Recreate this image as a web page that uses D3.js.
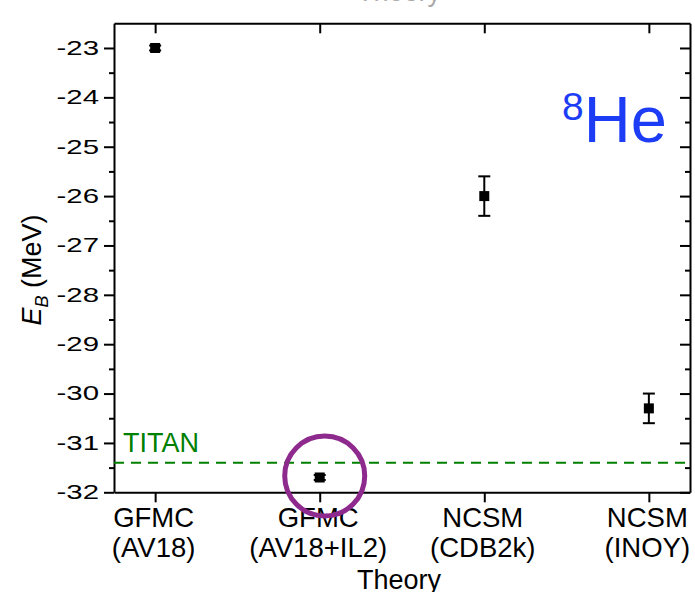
<!DOCTYPE html>
<html>
<head>
<meta charset="utf-8">
<script src="https://cdn.jsdelivr.net/npm/d3@7"></script>
<style>
  html, body { margin: 0; padding: 0; background: #fff; }
  svg { display: block; font-family: "Liberation Sans", Arial, sans-serif; }
</style>
</head>
<body>
<svg id="chart" width="695" height="592"></svg>
<script>
// Calculation methods (two-line labels) and binding energies of 8He in MeV
const methods = ["GFMC", "GFMC", "NCSM", "NCSM"];
const interactions = ["(AV18)", "(AV18+IL2)", "(CDB2k)", "(INOY)"];
const energies = [-23.0, -31.7, -26.0, -30.3];
const errors = [0.05, 0.05, 0.4, 0.3];
const titanEnergy = -31.4;
const yMajorTicks = [-32, -31, -30, -29, -28, -27, -26, -25, -24, -23];
const yMinorTicks = [-31.5, -30.5, -29.5, -28.5, -27.5, -26.5, -25.5, -24.5, -23.5];
const highlighted = 1;

const svg = d3.select("#chart");
const plotLeft = 114, plotRight = 690, plotTop = 23.3, plotBottom = 492.3;
const positions = methods.map((_, i) => i + 1);

const x = d3.scaleLinear().domain([0.75, 4.25]).range([plotLeft, plotRight]);
const y = d3.scaleLinear().domain([-32, -22.5]).range([plotBottom, plotTop]);

const axisStroke = g => {
  g.select(".domain").attr("stroke", "#000").attr("stroke-width", 2);
  g.selectAll(".tick line").attr("stroke", "#000").attr("stroke-width", 2);
};

// Left axis: outward major and minor ticks
const gLeft = svg.append("g").attr("transform", `translate(${plotLeft},0)`)
  .call(d3.axisLeft(y).tickValues(yMajorTicks).tickSize(10).tickSizeOuter(0)
    .tickFormat(d => String(d)))
  .call(axisStroke);
const labelStretch = 1.4;
gLeft.selectAll(".tick text")
  .attr("font-size", 21)
  .attr("font-family", "Liberation Sans, Arial, sans-serif")
  .attr("fill", "#000")
  .attr("x", -15 / labelStretch)
  .attr("dy", "0.3em")
  .attr("transform", `scale(${labelStretch},1)`);
svg.append("g").attr("transform", `translate(${plotLeft},0)`)
  .call(d3.axisLeft(y).tickValues(yMinorTicks).tickSize(5).tickSizeOuter(0).tickFormat(""))
  .call(axisStroke)
  .call(g => g.select(".domain").remove());

// Right axis: inward ticks, no labels
svg.append("g").attr("transform", `translate(${plotRight},0)`)
  .call(d3.axisRight(y).tickValues(yMajorTicks).tickSize(-10).tickSizeOuter(0).tickFormat(""))
  .call(axisStroke);
svg.append("g").attr("transform", `translate(${plotRight},0)`)
  .call(d3.axisRight(y).tickValues(yMinorTicks).tickSize(-5).tickSizeOuter(0).tickFormat(""))
  .call(axisStroke)
  .call(g => g.select(".domain").remove());

// Top axis: inward ticks at each method
svg.append("g").attr("transform", `translate(0,${plotTop})`)
  .call(d3.axisTop(x).tickValues(positions).tickSize(-10).tickSizeOuter(0).tickFormat(""))
  .call(axisStroke);

// Bottom axis: outward ticks with two-line method labels
const gBottom = svg.append("g").attr("transform", `translate(0,${plotBottom})`)
  .call(d3.axisBottom(x).tickValues(positions).tickSize(10).tickSizeOuter(0).tickFormat(""))
  .call(axisStroke);
gBottom.selectAll(".tick").each(function(d) {
  const t = d3.select(this).append("text")
    .attr("text-anchor", "middle")
    .attr("font-size", 27.5)
    .attr("fill", "#000");
  t.append("tspan").attr("x", -2).attr("y", 34.6).text(methods[d - 1]);
  t.append("tspan").attr("x", -2).attr("y", 64.6).text(interactions[d - 1]);
});

// Axis titles
svg.append("text")
  .attr("x", 399).attr("y", 588.6)
  .attr("text-anchor", "middle").attr("font-size", 27).attr("fill", "#000")
  .text("Theory");
svg.append("text")
  .attr("x", 399).attr("y", 1)
  .attr("text-anchor", "middle").attr("font-size", 27).attr("fill", "#aaa")
  .text("Theory");

const yTitle = svg.append("text")
  .attr("transform", "translate(41,270) rotate(-90)")
  .attr("text-anchor", "middle").attr("font-size", 27).attr("fill", "#000");
yTitle.append("tspan").attr("font-style", "italic").text("E");
yTitle.append("tspan").attr("font-style", "italic").attr("font-size", 18).attr("dy", 7).text("B");
yTitle.append("tspan").attr("dy", -7).text(" (MeV)");

// TITAN measurement
svg.append("line")
  .attr("x1", plotLeft).attr("x2", plotRight)
  .attr("y1", y(titanEnergy)).attr("y2", y(titanEnergy))
  .attr("stroke", "#008000").attr("stroke-width", 2)
  .attr("stroke-dasharray", "10,7");
svg.append("text")
  .attr("x", 123).attr("y", 452)
  .attr("font-size", 27).attr("fill", "#008000")
  .text("TITAN");

// Nucleus label
const nuc = svg.append("text")
  .attr("x", 562).attr("y", 141.7)
  .attr("fill", "#1c3cf5");
nuc.append("tspan").attr("font-size", 39).attr("dy", -21.7).text("8");
nuc.append("tspan").attr("font-size", 65).attr("dy", 21.7).text("He");

// Error bars and markers
const capHalf = 6, markerSize = 10;
const pts = svg.append("g");
energies.forEach((e, i) => {
  const cx = x(positions[i]);
  const g = pts.append("g").attr("stroke", "#000").attr("stroke-width", 2);
  g.append("line").attr("x1", cx).attr("x2", cx)
    .attr("y1", y(e - errors[i])).attr("y2", y(e + errors[i]));
  [e - errors[i], e + errors[i]].forEach(v => {
    g.append("line").attr("x1", cx - capHalf).attr("x2", cx + capHalf)
      .attr("y1", y(v)).attr("y2", y(v));
  });
  pts.append("rect")
    .attr("x", cx - markerSize / 2).attr("y", y(e) - markerSize / 2)
    .attr("width", markerSize).attr("height", markerSize)
    .attr("fill", "#000");
});

// Highlight ring around the GFMC (AV18+IL2) result
svg.append("circle")
  .attr("cx", x(positions[highlighted]) + 5)
  .attr("cy", y(energies[highlighted]) - 1.5)
  .attr("r", 40)
  .attr("fill", "none")
  .attr("stroke", "#8e2a8e")
  .attr("stroke-width", 5);
</script>
</body>
</html>
